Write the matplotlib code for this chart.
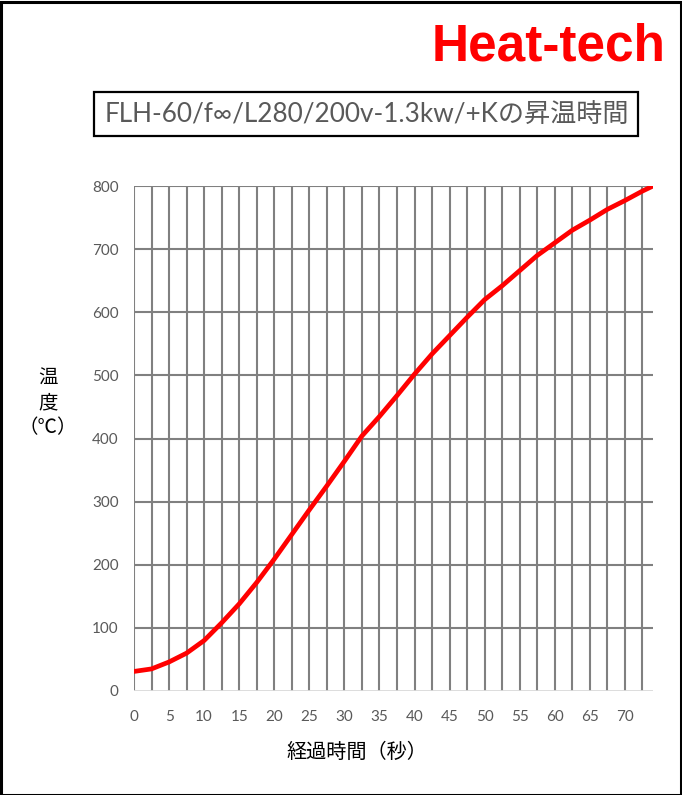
import matplotlib
matplotlib.use("Agg")
import matplotlib.pyplot as plt
from matplotlib import font_manager
from matplotlib.patches import Rectangle

# ---- data ----
time_s = [0, 2.5, 5, 7.5, 10, 12.5, 15, 17.5, 20, 22.5, 25, 27.5, 30, 32.5, 35,
          37.5, 40, 42.5, 45, 47.5, 50, 52.5, 55, 57.5, 60, 62.5, 65, 67.5, 70,
          72.5, 74]
temp_c = [31, 35, 46, 60, 80, 108, 138, 172, 209, 248, 287, 325, 364, 404, 435,
          468, 502, 534, 563, 592, 620, 642, 666, 690, 710, 730, 746, 763, 777,
          792, 800]
x_ticks = list(range(0, 75, 5))
y_ticks = list(range(0, 801, 100))
title = "FLH-60/f∞/L280/200v-1.3kw/+Kの昇温時間"
brand = "Heat-tech"
xlabel = "経過時間（秒）"
ylabel = "温\n度\n（℃）"

names = {f.name for f in font_manager.fontManager.ttflist}
latin = "Lato" if "Lato" in names else "DejaVu Sans"
fam = [latin, "Noto Sans CJK JP", "DejaVu Sans"]
cjk = ["Noto Sans CJK JP", "DejaVu Sans"]
brand_font = "Liberation Sans Narrow" if "Liberation Sans Narrow" in names else "Liberation Sans"

W, H = 682, 795
fig = plt.figure(figsize=(W / 100, H / 100), dpi=100)
fig.patch.set_facecolor("white")

ax = fig.add_axes([134 / W, 104 / H, (653 - 134) / W, (691 - 186) / H])
ax.set_xlim(0, 74)
ax.set_ylim(0, 800)

grid_c = "#808080"
for xv in [i * 2.5 for i in range(0, 30)]:
    ax.axvline(xv, color=grid_c, lw=1.5, zorder=1)
for yv in y_ticks[1:]:
    ax.axhline(yv, color=grid_c, lw=1.5, zorder=1)
ax.axhline(0, color="#D9D9D9", lw=2, zorder=2)

ax.plot(time_s, temp_c, color="#FF0000", lw=3.4, solid_capstyle="round",
        solid_joinstyle="round", zorder=3)

for s in ax.spines.values():
    s.set_visible(False)
ax.set_xticks(x_ticks)
ax.set_yticks(y_ticks)
ax.tick_params(length=0, colors="#595959", labelsize=11)
for lab in ax.get_xticklabels() + ax.get_yticklabels():
    lab.set_family(fam)
ax.tick_params(axis="y", pad=11)
ax.tick_params(axis="x", pad=14)

# axis labels
fig.text(357 / W, 1 - 752 / H, xlabel, ha="center", va="center",
         fontsize=14.5, family=cjk, color="#000000")
fig.text(48 / W, 1 - 403 / H, ylabel, ha="center", va="center",
         fontsize=14, family=cjk, color="#000000", linespacing=1.25)

# title box
fig.text(367 / W, 1 - 115 / H, title, ha="center", va="center",
         fontsize=18.8, family=fam, color="#595959")
fig.add_artist(Rectangle((94 / W, 1 - 136 / H), (638 - 94) / W, (136 - 92) / H,
                         transform=fig.transFigure, fill=False,
                         edgecolor="black", lw=1.6))

# brand
fig.text(549 / W, 1 - 47 / H, brand, ha="center", va="center",
         fontsize=37, family=[brand_font, "DejaVu Sans"], fontweight="heavy",
         color="#FF0000")

# outer border
fig.add_artist(Rectangle((0.5 / W, 0.5 / H), (W - 2) / W, (H - 2) / H,
                         transform=fig.transFigure, fill=False,
                         edgecolor="black", lw=2.2))

fig.savefig("out.png", dpi=100, facecolor="white")
